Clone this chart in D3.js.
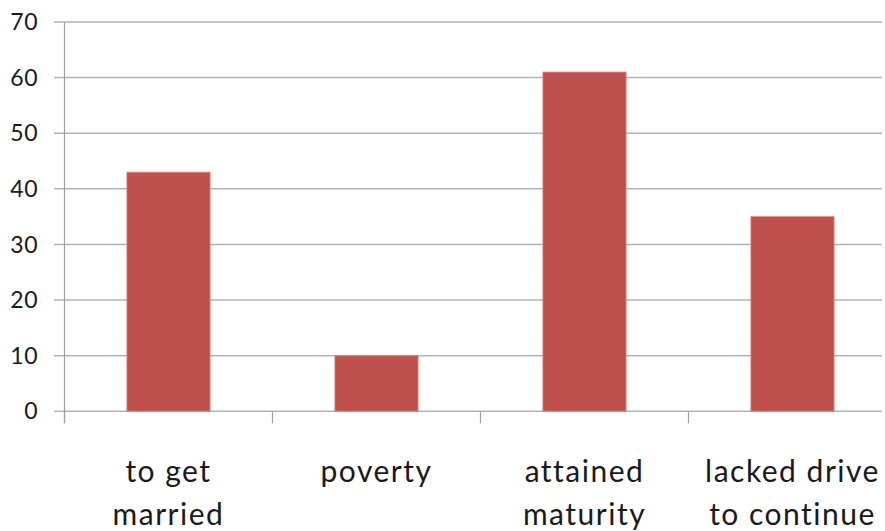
<!DOCTYPE html>
<html><head><meta charset="utf-8">
<script src="https://cdn.jsdelivr.net/npm/d3@7"></script>
<style>body{margin:0;background:#fff}svg{display:block}text{font-family:Lato,"Open Sans",sans-serif;fill:#1a1a1a}</style>
</head><body><svg id="c" width="885" height="531"></svg>
<script>
const categories = [["to get","married"],["poverty"],["attained","maturity"],["lacked drive","to continue"]];
const values = [43, 10, 61, 35];
const yTicks = [0,10,20,30,40,50,60,70];

const svg = d3.select("#c");
const mLeft = 64.5, mTop = 22, mBottom = 411.3, catW = 208;
const mRight = mLeft + catW*categories.length;
const gridRight = 882;

const x = d3.scaleBand().domain(d3.range(categories.length)).range([mLeft, mRight]).paddingInner(0.6).paddingOuter(0.3);
const y = d3.scaleLinear().domain([0,70]).range([mBottom, mTop]);

// gridlines
svg.append("g").selectAll("line").data(yTicks).join("line")
  .attr("x1", 54).attr("x2", gridRight)
  .attr("y1", d=>y(d)).attr("y2", d=>y(d))
  .attr("stroke", "#b3b3b3").attr("stroke-width", 1.5);

// y axis line
svg.append("line").attr("x1", mLeft).attr("x2", mLeft).attr("y1", mTop).attr("y2", mBottom+12)
  .attr("stroke","#a0a0a0").attr("stroke-width",1.2);

// y tick labels
svg.append("g").selectAll("text").data(yTicks).join("text")
  .attr("x", 38).attr("y", d=>y(d)).attr("dy","0.35em")
  .attr("text-anchor","end").attr("font-size", 23).attr("letter-spacing", 0.5).text(d=>d);

// x category boundary ticks
const bounds = d3.range(categories.length+1).map(i => mLeft + i*catW);
svg.append("g").selectAll("line").data(bounds.filter(b=>b<885)).join("line")
  .attr("x1", d=>d).attr("x2", d=>d).attr("y1", mBottom).attr("y2", mBottom+12)
  .attr("stroke","#a0a0a0").attr("stroke-width",1.2);

// bars
svg.append("g").selectAll("rect").data(values).join("rect")
  .attr("x", (d,i)=>x(i)).attr("width", x.bandwidth())
  .attr("y", d=>y(d)).attr("height", d=>mBottom - y(d))
  .attr("fill", "#C0504D").attr("stroke","#d88a88").attr("stroke-width",0.8);

// category labels
const lab = svg.append("g").selectAll("text").data(categories).join("text")
  .attr("text-anchor","middle").attr("font-size", 30).attr("letter-spacing", 1.5)
  .attr("x", (d,i)=>x(i)+x.bandwidth()/2);
lab.selectAll("tspan").data(d=>d).join("tspan")
  .attr("x", function(){return d3.select(this.parentNode).attr("x");})
  .attr("y", (d,j)=>481.5 + j*43.5).text(d=>d);
</script></body></html>
